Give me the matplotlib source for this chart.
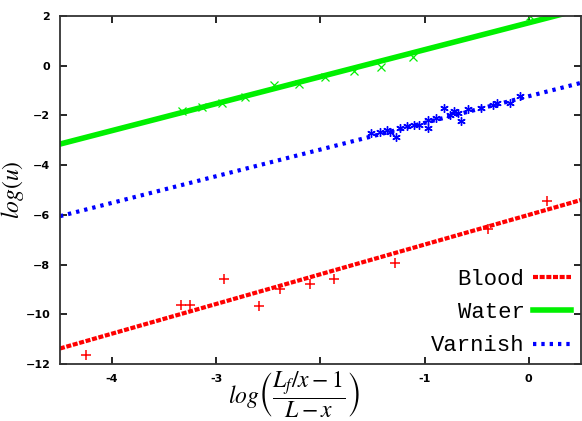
import matplotlib
matplotlib.use("Agg")
import matplotlib.pyplot as plt

plt.rcParams['mathtext.fontset'] = 'stix'

blood_x = [-4.25, -3.34, -3.25, -2.93, -2.59, -2.39, -2.10, -1.87, -1.28, -0.39, 0.18]
blood_y = [-11.65, -9.61, -9.61, -8.59, -9.68, -8.96, -8.76, -8.56, -7.93, -6.55, -5.44]

water_x = [-3.33, -3.14, -2.94, -2.72, -2.45, -2.21, -1.96, -1.68, -1.42, -1.11, 0.01]
water_y = [-1.84, -1.64, -1.51, -1.24, -0.77, -0.73, -0.46, -0.23, -0.05, 0.36, 1.98]

varnish_x = [-1.51, -1.43, -1.36, -1.33, -1.27, -1.24, -1.17, -1.10, -1.05, -0.97,
             -0.97, -0.89, -0.81, -0.76, -0.72, -0.68, -0.65, -0.58, -0.46, -0.34,
             -0.30, -0.18, -0.08]
varnish_y = [-2.71, -2.65, -2.58, -2.65, -2.88, -2.51, -2.42, -2.40, -2.38, -2.51,
             -2.18, -2.11, -1.71, -1.98, -1.84, -1.91, -2.21, -1.75, -1.71, -1.57,
             -1.51, -1.48, -1.21]

# fitted straight lines (end points)
fit_x = [-4.5, 0.5]
blood_fit = [-11.37, -5.40]
water_fit = [-3.15, 2.27]
varnish_fit = [-6.05, -0.69]

xticks = [-4, -3, -2, -1, 0]
xtick_labels = ['-4', '-3', '', '-1', '0']   # -2 is hidden under the x label

fig = plt.figure(figsize=(5.82, 4.21), dpi=100)
ax = fig.add_axes([0.103, 0.135, 0.895, 0.827])

red = '#ff0000'
green = '#00f000'
blue = '#0000ff'

ax.plot(fit_x, blood_fit, color=red, lw=3, dashes=(1.2, 0.4), label='Blood')
ax.plot(fit_x, water_fit, color=green, lw=4, label='Water')
ax.plot(fit_x, varnish_fit, color=blue, lw=3, dashes=(0.8, 1.2), label='Varnish')

ax.plot(blood_x, blood_y, '+', color=red, ms=7, mew=1.1)
ax.plot(water_x, water_y, 'x', color=green, ms=5.5, mew=0.9)
ax.plot(varnish_x, varnish_y, marker=(6, 2, 0), ls='none', color=blue, ms=6, mew=1.0)

ax.set_xlim(-4.5, 0.5)
ax.set_ylim(-12, 2)
ax.set_xticks(xticks)
ax.set_xticklabels(xtick_labels)
ax.set_yticks(range(-12, 3, 2))
ax.tick_params(direction='in', top=True, right=True, length=5, width=1.2,
               labelsize=8, pad=7)
for lbl in ax.get_xticklabels() + ax.get_yticklabels():
    lbl.set_fontweight('bold')
for s in ax.spines.values():
    s.set_linewidth(1.3)
    s.set_color('#333333')

ax.set_ylabel(r'$log(u)$', fontsize=17)
ax.yaxis.set_label_coords(-0.066, 0.5)
ax.set_xlabel(r'$log\left(\dfrac{L_f/x-1}{L-x}\right)$', fontsize=17)
ax.xaxis.set_label_coords(0.45, -0.015)
ax.xaxis.label.set_va('top')

ax.legend(loc='lower right', markerfirst=False, frameon=False,
          prop={'family': 'Liberation Mono', 'size': 16},
          handlelength=1.7, handletextpad=0.4, labelspacing=0.55,
          bbox_to_anchor=(1.02, -0.035))

fig.savefig('out.png', dpi=100)
